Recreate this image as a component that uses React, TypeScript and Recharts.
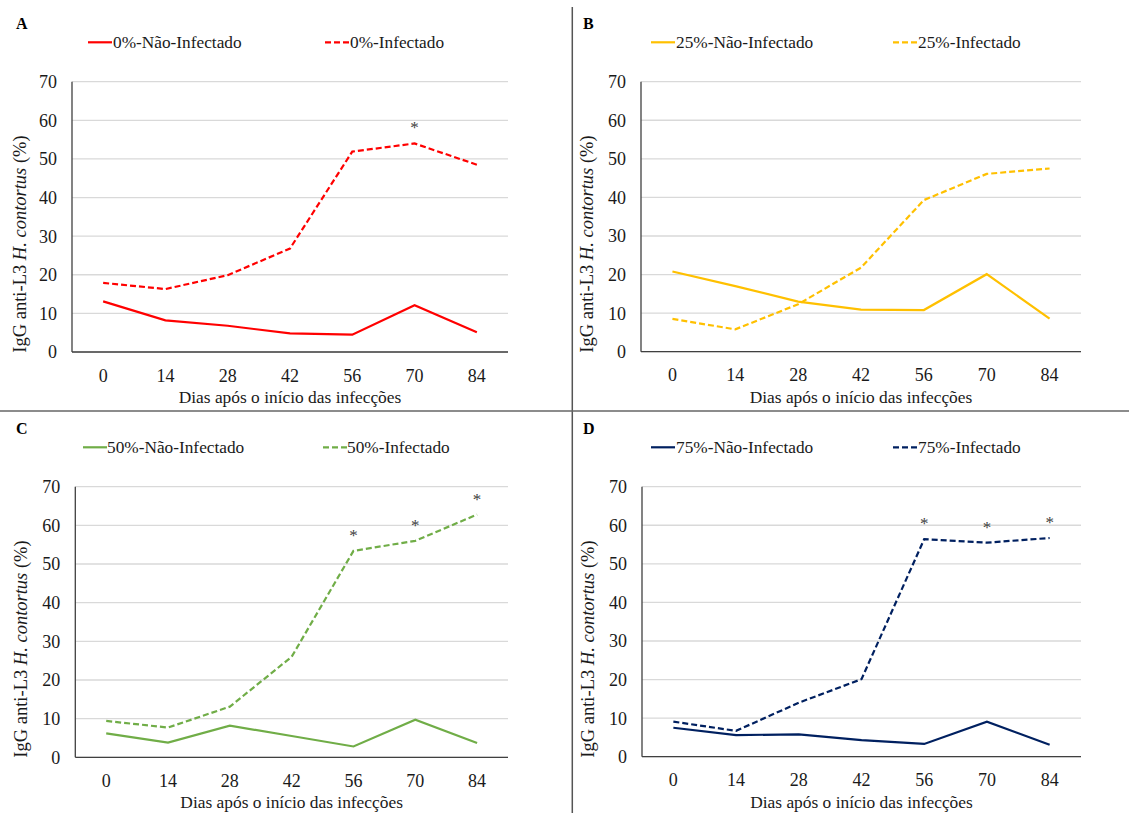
import React from 'react';
import { LineChart, Line, XAxis, YAxis, CartesianGrid } from 'recharts';

const days = ['0', '14', '28', '42', '56', '70', '84'];
const yTicks = [0, 10, 20, 30, 40, 50, 60, 70];

const naoInf0 = [13.1, 8.2, 6.8, 4.8, 4.5, 12.1, 5.1];
const inf0 = [17.9, 16.3, 19.9, 26.8, 51.9, 54.0, 48.5];
const sig0 = [false, false, false, false, false, true, false];

const naoInf25 = [20.8, 17.0, 13.0, 10.9, 10.8, 20.1, 8.6];
const inf25 = [8.5, 5.8, 12.3, 21.8, 39.3, 46.1, 47.5];
const sig25 = [false, false, false, false, false, false, false];

const naoInf50 = [6.2, 3.8, 8.2, 5.5, 2.8, 9.7, 3.7];
const inf50 = [9.4, 7.7, 13.1, 26.0, 53.4, 56.0, 62.8];
const sig50 = [false, false, false, false, true, true, true];

const naoInf75 = [7.5, 5.6, 5.8, 4.3, 3.3, 9.1, 3.1];
const inf75 = [9.1, 6.7, 14.0, 20.1, 56.4, 55.5, 56.7];
const sig75 = [false, false, false, false, true, true, true];

const FONT = '"Liberation Serif", "Times New Roman", serif';
const TEXT = '#1a1a1a';

type PanelDef = {
  letter: string;
  group: string;
  color: string;
  nao: number[];
  inf: number[];
  sig: boolean[];
  left: number;
  top: number;
  width: number;
  yAxisWidth: number;
  marginRight: number;
  xAxisHeight: number;
  yLabelX: number;
  legend: { s1: number; t1: number; s2: number; t2: number };
  letterX: number;
};

const panels: PanelDef[] = [
  {
    letter: 'A', group: '0%', color: '#FF0000', nao: naoInf0, inf: inf0, sig: sig0,
    left: 0, top: 0, width: 570, yAxisWidth: 72, marginRight: 62, xAxisHeight: 58,
    yLabelX: 26, legend: { s1: 88, t1: 113, s2: 325, t2: 350 }, letterX: 16,
  },
  {
    letter: 'B', group: '25%', color: '#FFC000', nao: naoInf25, inf: inf25, sig: sig25,
    left: 565, top: 0, width: 564, yAxisWidth: 76, marginRight: 48, xAxisHeight: 58.3,
    yLabelX: 28, legend: { s1: 86, t1: 111, s2: 328, t2: 353 }, letterX: 18,
  },
  {
    letter: 'C', group: '50%', color: '#70AD47', nao: naoInf50, inf: inf50, sig: sig50,
    left: 0, top: 405, width: 570, yAxisWidth: 75.3, marginRight: 62, xAxisHeight: 57.7,
    yLabelX: 27, legend: { s1: 83, t1: 107, s2: 323, t2: 347 }, letterX: 16,
  },
  {
    letter: 'D', group: '75%', color: '#002060', nao: naoInf75, inf: inf75, sig: sig75,
    left: 565, top: 405, width: 564, yAxisWidth: 77, marginRight: 48, xAxisHeight: 58.3,
    yLabelX: 29, legend: { s1: 86, t1: 111, s2: 328, t2: 353 }, letterX: 18,
  },
];

const CHART_H = 410;
const MARGIN_TOP = 81.7;
const DASH = '6 3';

function Panel({ p }: { p: PanelDef }) {
  const rows = days.map((d, i) => ({ day: d, nao: p.nao[i], inf: p.inf[i], sig: p.sig[i] }));
  const plotW = p.width - p.yAxisWidth - p.marginRight;
  const pad = plotW / 14;
  const plotTop = MARGIN_TOP;
  const plotBottom = CHART_H - p.xAxisHeight;
  const yLabelCenter = 244;

  const renderStar = (props: any) => {
    const { cx, cy, index, payload } = props;
    if (!payload || !payload.sig) return <g key={`s-${index}`} />;
    return (
      <text key={`s-${index}`} x={cx} y={cy - 10} textAnchor="middle" fontFamily={FONT} fontSize={17} fill="#404040">
        *
      </text>
    );
  };

  const renderYLabel = () => (
    <text
      transform={`translate(${p.yLabelX}, ${yLabelCenter}) rotate(-90)`}
      textAnchor="middle"
      fontFamily={FONT}
      fontSize={18.5}
      fill={TEXT}
    >
      <tspan>IgG anti-L3 </tspan>
      <tspan fontStyle="italic">H. contortus</tspan>
      <tspan> (%)</tspan>
    </text>
  );

  const renderXLabel = () => (
    <text
      x={p.yAxisWidth + plotW / 2}
      y={CHART_H - 7}
      textAnchor="middle"
      fontFamily={FONT}
      fontSize={17.4}
      fill={TEXT}
    >
      Dias após o início das infecções
    </text>
  );

  const legendY = 42.3;
  return (
    <div style={{ position: 'absolute', left: p.left, top: p.top, width: p.width, height: CHART_H }}>
      <LineChart
        width={p.width}
        height={CHART_H}
        data={rows}
        margin={{ top: plotTop, right: p.marginRight, left: 0, bottom: 0 }}
      >
        <CartesianGrid vertical={false} stroke="#d9d9d9" strokeWidth={1.3} />
        <XAxis
          dataKey="day"
          type="category"
          padding={{ left: pad, right: pad }}
          height={p.xAxisHeight}
          axisLine={{ stroke: '#404040', strokeWidth: 1.3 }}
          tickLine={false}
          tickMargin={11}
          interval={0}
          tick={{ fill: TEXT, fontSize: 18, fontFamily: FONT }}
          label={{ content: renderXLabel }}
        />
        <YAxis
          domain={[0, 70]}
          ticks={yTicks}
          width={p.yAxisWidth}
          axisLine={{ stroke: '#404040', strokeWidth: 1.3 }}
          tickLine={false}
          tickMargin={9}
          interval={0}
          tick={{ fill: TEXT, fontSize: 18, fontFamily: FONT }}
          label={{ content: renderYLabel }}
        />
        <Line
          type="linear"
          dataKey="nao"
          stroke={p.color}
          strokeWidth={2.2}
          dot={false}
          isAnimationActive={false}
        />
        <Line
          type="linear"
          dataKey="inf"
          stroke={p.color}
          strokeWidth={2.2}
          strokeDasharray={DASH}
          dot={renderStar}
          activeDot={false}
          isAnimationActive={false}
        />
      </LineChart>
      <svg
        width={p.width}
        height={70}
        style={{ position: 'absolute', left: 0, top: 0, pointerEvents: 'none' }}
      >
        <text x={p.letterX} y={29} fontFamily={FONT} fontWeight="bold" fontSize={16} fill="#000">
          {p.letter}
        </text>
        <line x1={p.legend.s1} x2={p.legend.s1 + 24} y1={legendY} y2={legendY} stroke={p.color} strokeWidth={2.2} />
        <text x={p.legend.t1} y={legendY + 5.6} fontFamily={FONT} fontSize={17.3} fill={TEXT}>
          {`${p.group}-Não-Infectado`}
        </text>
        <line
          x1={p.legend.s2}
          x2={p.legend.s2 + 24}
          y1={legendY}
          y2={legendY}
          stroke={p.color}
          strokeWidth={2.2}
          strokeDasharray={DASH}
        />
        <text x={p.legend.t2} y={legendY + 5.6} fontFamily={FONT} fontSize={17.3} fill={TEXT}>
          {`${p.group}-Infectado`}
        </text>
      </svg>
    </div>
  );
}

export default function App() {
  return (
    <div style={{ position: 'absolute', left: 0, top: 0, width: 1129, height: 816, background: '#fff', overflow: 'hidden' }}>
      {panels.map((p) => (
        <Panel key={p.letter} p={p} />
      ))}
      <svg width={1129} height={816} style={{ position: 'absolute', left: 0, top: 0, pointerEvents: 'none' }}>
        <line x1={572.3} x2={572.3} y1={7} y2={813} stroke="#555" strokeWidth={1.5} />
        <line x1={0} x2={1129} y1={411} y2={411} stroke="#666" strokeWidth={1.5} />
      </svg>
    </div>
  );
}
